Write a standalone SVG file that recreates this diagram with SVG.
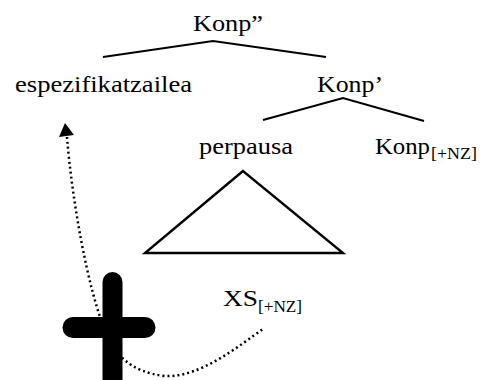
<svg xmlns="http://www.w3.org/2000/svg" width="483" height="380" viewBox="0 0 483 380">
<style>
.t{font-family:"Liberation Serif","Times New Roman",serif;font-size:24px;fill:#000}
.s{font-family:"Liberation Serif","Times New Roman",serif;font-size:16px;fill:#000}
.e{stroke:#000;stroke-width:2;fill:none;stroke-linejoin:miter}
.dot{stroke:#000;stroke-width:2.5;fill:none;stroke-dasharray:2 3}
</style>
<rect width="483" height="380" fill="#fff"/>
<g id="connectors">
<polyline class="e" points="103,57 213,41 326,57"/>
<polyline class="e" points="263,120 343,98 424,121"/>
<polygon class="e" points="243,171 145,253 343,253" style="stroke-width:2.4"/>
<path class="dot" d="M67,137 C72,200 88,290 105,330 C115,355 130,372 165,376 C200,378 240,345 263,329"/>
<polygon points="65,123 59,137 74,135" fill="#000"/>
</g>
<g id="n-konp2"><text class="t" x="193" y="31" textLength="70" lengthAdjust="spacingAndGlyphs">Konp”</text></g>
<g id="n-espez"><text class="t" x="15" y="92" textLength="177" lengthAdjust="spacingAndGlyphs">espezifikatzailea</text></g>
<g id="n-konp1"><text class="t" x="317" y="92" textLength="66" lengthAdjust="spacingAndGlyphs">Konp’</text></g>
<g id="n-perpausa"><text class="t" x="199" y="154" textLength="94" lengthAdjust="spacingAndGlyphs">perpausa</text></g>
<g id="n-konp0"><text class="t" x="375" y="154" textLength="55" lengthAdjust="spacingAndGlyphs">Konp</text><text class="s" x="431" y="159" textLength="46" lengthAdjust="spacingAndGlyphs">[+NZ]</text></g>
<g id="n-xs"><text class="t" x="223" y="306" textLength="35" lengthAdjust="spacingAndGlyphs">XS</text><text class="s" x="258" y="312" textLength="44" lengthAdjust="spacingAndGlyphs">[+NZ]</text></g>
<g id="n-plus" stroke="#000" stroke-linecap="round" fill="none">
<line x1="112.5" y1="282" x2="112.5" y2="395" stroke-width="20"/>
<line x1="73" y1="327.5" x2="145" y2="327.5" stroke-width="21"/>
</g>
</svg>
